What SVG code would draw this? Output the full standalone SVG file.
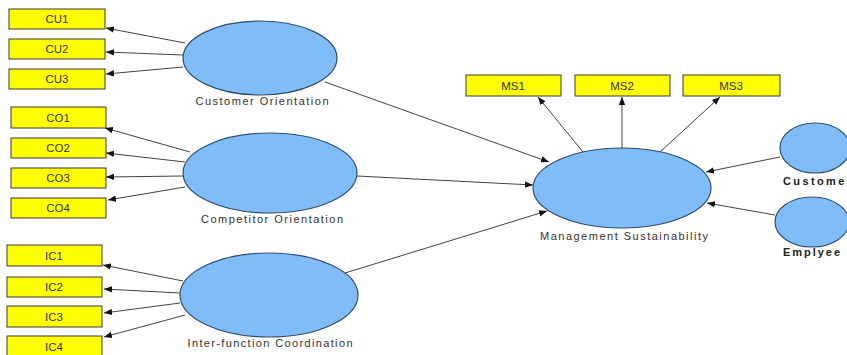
<svg xmlns="http://www.w3.org/2000/svg" width="847" height="355" viewBox="0 0 847 355">
<style>
.box{fill:#FFFF00;stroke:#3a3a3a;stroke-width:1}
.bt{font-family:"Liberation Sans",Arial,sans-serif;font-size:11.5px;fill:#333;text-anchor:middle}
.lv{fill:#80BDF8;stroke:#2f4f6f;stroke-width:1.2}
.lt{font-family:"Liberation Sans",Arial,sans-serif;font-size:11px;fill:#333;text-anchor:middle}
.bl{font-family:"Liberation Sans",Arial,sans-serif;font-size:11px;font-weight:bold;fill:#222}
.c line{stroke:#444;stroke-width:1;marker-end:url(#ah)}
</style>
<defs>
<marker id="ah" viewBox="0 0 10 10" refX="10" refY="5" markerWidth="8" markerHeight="8" markerUnits="userSpaceOnUse" orient="auto">
<path d="M0,1 L10,5 L0,9 Z" fill="#111"/>
</marker>
</defs>
<rect width="847" height="355" fill="#fff"/>
<g class="c">
<line x1="185" y1="43" x2="106" y2="28"/>
<line x1="183" y1="55" x2="106" y2="52"/>
<line x1="183" y1="67" x2="106" y2="74"/>
<line x1="190" y1="152" x2="105" y2="128"/>
<line x1="185" y1="162" x2="106" y2="153"/>
<line x1="183" y1="176" x2="106" y2="177"/>
<line x1="185" y1="187" x2="108" y2="200"/>
<line x1="183" y1="281" x2="103" y2="265"/>
<line x1="180" y1="293" x2="104" y2="289"/>
<line x1="180" y1="303" x2="104" y2="313"/>
<line x1="185" y1="315" x2="104" y2="337"/>
<line x1="325" y1="82" x2="549" y2="162"/>
<line x1="357" y1="176" x2="533" y2="185"/>
<line x1="345" y1="273" x2="547" y2="211"/>
<line x1="583" y1="152" x2="538" y2="97"/>
<line x1="622" y1="148" x2="622" y2="97"/>
<line x1="660" y1="152" x2="720" y2="97"/>
<line x1="780" y1="157" x2="706" y2="172"/>
<line x1="775" y1="215" x2="707" y2="203"/>
</g>
<g id="CU1"><rect class="box" x="9" y="9" width="96" height="20"/><text class="bt" x="57" y="23">CU1</text></g>
<g id="CU2"><rect class="box" x="9" y="39" width="96" height="20"/><text class="bt" x="57" y="53">CU2</text></g>
<g id="CU3"><rect class="box" x="9" y="69" width="96" height="20"/><text class="bt" x="57" y="83">CU3</text></g>
<g id="CO1"><rect class="box" x="11" y="107" width="95" height="21"/><text class="bt" x="58" y="122">CO1</text></g>
<g id="CO2"><rect class="box" x="11" y="138" width="95" height="20"/><text class="bt" x="58" y="152">CO2</text></g>
<g id="CO3"><rect class="box" x="11" y="168" width="95" height="20"/><text class="bt" x="58" y="182">CO3</text></g>
<g id="CO4"><rect class="box" x="11" y="198" width="95" height="20"/><text class="bt" x="58" y="212">CO4</text></g>
<g id="IC1"><rect class="box" x="7" y="245" width="95" height="21"/><text class="bt" x="54" y="260">IC1</text></g>
<g id="IC2"><rect class="box" x="7" y="277" width="95" height="20"/><text class="bt" x="54" y="291">IC2</text></g>
<g id="IC3"><rect class="box" x="7" y="306" width="95" height="21"/><text class="bt" x="54" y="321">IC3</text></g>
<g id="IC4"><rect class="box" x="7" y="336" width="95" height="21"/><text class="bt" x="54" y="351">IC4</text></g>
<g id="MS1"><rect class="box" x="466" y="75" width="95" height="21"/><text class="bt" x="513" y="90">MS1</text></g>
<g id="MS2"><rect class="box" x="575" y="75" width="95" height="21"/><text class="bt" x="622" y="90">MS2</text></g>
<g id="MS3"><rect class="box" x="683" y="75" width="97" height="21"/><text class="bt" x="731" y="90">MS3</text></g>
<g id="CustomerOrientation"><ellipse class="lv" cx="260" cy="58" rx="77" ry="37"/><text class="lt" x="262" y="105" textLength="133">Customer Orientation</text></g>
<g id="CompetitorOrientation"><ellipse class="lv" cx="270" cy="173" rx="87" ry="40"/><text class="lt" x="272" y="223" textLength="142">Competitor Orientation</text></g>
<g id="InterfunctionCoordination"><ellipse class="lv" cx="269" cy="295" rx="89" ry="42"/><text class="lt" x="270" y="347" textLength="165">Inter-function Coordination</text></g>
<g id="ManagementSustainability"><ellipse class="lv" cx="622" cy="188" rx="89" ry="40"/><text class="lt" x="624" y="240" textLength="168">Management Sustainability</text></g>
<g id="Customer"><ellipse class="lv" cx="815" cy="148" rx="35" ry="25"/><text class="bl" x="783" y="185" textLength="68">Customer</text></g>
<g id="Emplyee"><ellipse class="lv" cx="812" cy="222" rx="37" ry="25"/><text class="bl" x="783" y="256" textLength="57">Emplyee</text></g>
</svg>
